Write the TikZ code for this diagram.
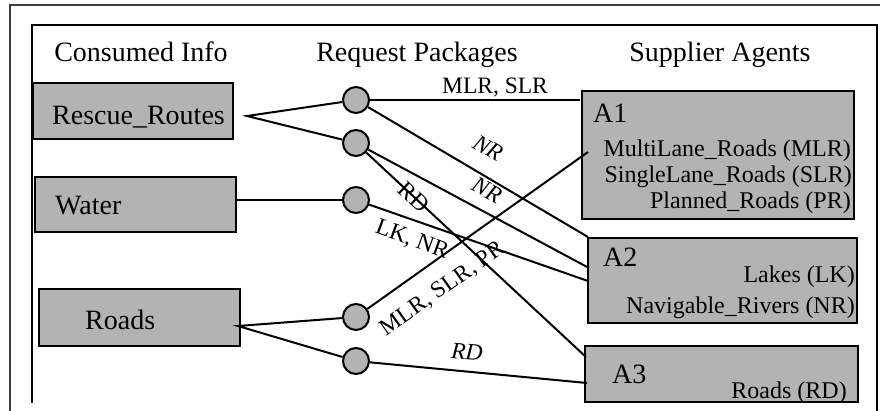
\documentclass[tikz,border=0pt]{standalone}
\usepackage{fontspec}
\setmainfont{Liberation Serif}
\definecolor{boxgray}{RGB}{179,179,179}
\definecolor{framegray}{RGB}{60,60,60}
\tikzset{
  big/.style={font=\fontsize{28}{32}\selectfont, inner sep=0pt},
  small/.style={font=\fontsize{24}{28}\selectfont, inner sep=0pt},
  elabel/.style={font=\fontsize{23.5}{28}\selectfont, inner sep=0pt},
  infobox/.style={draw, line width=2pt, fill=boxgray, rectangle, inner sep=0pt},
  pkg/.style={draw, line width=2pt, fill=boxgray, circle, minimum size=26pt, inner sep=0pt},
  link/.style={line width=2pt},
}
\begin{document}
\begin{tikzpicture}[x=1pt, y=-1pt]
\useasboundingbox (0,0) rectangle (880,411);

% frames
\draw[line width=2.5pt, framegray] (10,412) -- (10,5) -- (881,5);
\draw[line width=2pt] (32,403) -- (32,25) -- (876.5,25) -- (876.5,412);

% column headings
\node[big, anchor=base] (hcons) at (141,62) {Consumed Info};
\node[big, anchor=base] (hreq)  at (417,62) {Request Packages};
\node[big, anchor=base] (hsup)  at (720,62) {Supplier Agents};

% consumed information
\node[infobox, minimum width=200pt, minimum height=56pt] (rr) at (133,111) {};
\node[big, anchor=base west] (rrt) at (52,125) {Rescue\_Routes};
\node[infobox, minimum width=201pt, minimum height=55pt] (wa) at (135.5,204.5) {};
\node[big, anchor=base west] (wat) at (55,215) {Water};
\node[infobox, minimum width=201pt, minimum height=57pt] (ro) at (139.5,317.5) {};
\node[big, anchor=base west] (rot) at (85,330) {Roads};

% supplier agents
\node[infobox, minimum width=272pt, minimum height=128pt] (A1) at (718,155) {};
\node[big, anchor=base west] (a1t) at (593,123) {A1};
\node[small, anchor=base east] (a1r1) at (851,157) {MultiLane\_Roads (MLR)};
\node[small, anchor=base east] (a1r2) at (852,183) {SingleLane\_Roads (SLR)};
\node[small, anchor=base east] (a1r3) at (851,209) {Planned\_Roads (PR)};

\node[infobox, minimum width=269pt, minimum height=85pt] (A2) at (722.5,280.5) {};
\node[big, anchor=base west] (a2t) at (603,267) {A2};
\node[small, anchor=base east] (a2r1) at (855,283) {Lakes (LK)};
\node[small, anchor=base east] (a2r2) at (855,313) {Navigable\_Rivers (NR)};

\node[infobox, minimum width=273pt, minimum height=56pt] (A3) at (721.5,374) {};
\node[big, anchor=base west] (a3t) at (612,383) {A3};
\node[small, anchor=base east] (a3r1) at (847,398) {Roads (RD)};

% request packages
\node[pkg] (c1) at (356,100) {};
\node[pkg] (c2) at (356,143) {};
\node[pkg] (c3) at (356,200) {};
\node[pkg] (c4) at (356,317) {};
\node[pkg] (c5) at (356,361) {};

% connection points
\coordinate (rrp) at (247,116);
\coordinate (wap) at (236,200);
\coordinate (rop) at (238,326);
\coordinate (a1p1) at (580,100);
\coordinate (a1p2) at (588,152);
\coordinate (a2p1) at (588,237);
\coordinate (a2p2) at (589,268);
\coordinate (a2p3) at (588,281);
\coordinate (a3p1) at (586,357);
\coordinate (a3p2) at (587,383);

% consumed info to packages
\draw[link] (c1) -- (rrp) -- (c2);
\draw[link] (wap) -- (c3);
\draw[link] (c4) -- (rop) -- (c5);

% packages to suppliers
\draw[link] (c1) -- (a1p1);
\draw[link] (c1) -- (a2p1);
\draw[link] (c2) -- (a2p2);
\draw[link] (c2) -- (a3p1);
\draw[link] (c3) -- (a2p3);
\draw[link] (c4) -- (a1p2);
\draw[link] (c5) -- (a3p2);

% edge labels
\node[elabel] (l1) at (495,88) {MLR, SLR};
\node[elabel, rotate=-30.5] (l2) at (488,148) {\itshape NR};
\node[elabel, rotate=-28] (l3) at (487,190) {\itshape NR};
\node[elabel, rotate=-43] (l4) at (414,197) {RD};
\node[elabel, rotate=-20] (l5) at (412,240) {LK, NR};
\node[elabel, rotate=35.5] (l6) at (443,289) {MLR, SLR, PR};
\node[elabel, rotate=-4] (l7) at (467,352) {\itshape RD};
\end{tikzpicture}
\end{document}
